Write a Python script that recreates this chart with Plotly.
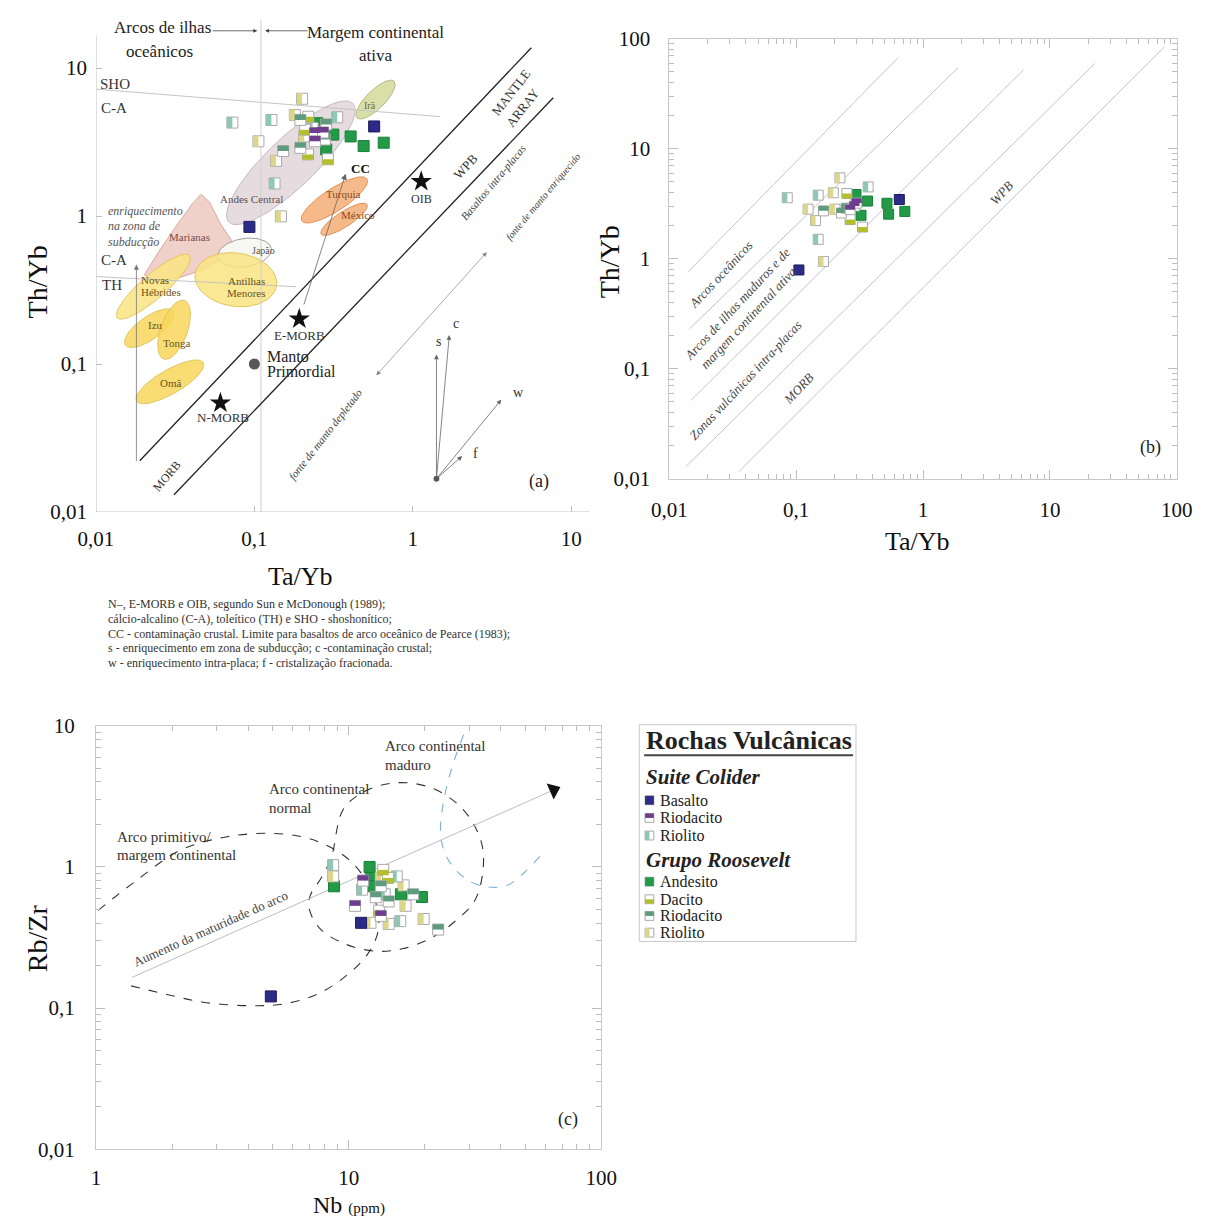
import numpy as np
import plotly.graph_objects as go

W, H = 1226, 1231          # target picture size
PAD = 8                    # default body margin of the html page
FW, FH = W - 2 * PAD, H - 2 * PAD
FONT = "Liberation Serif"

# ------------------------------------------------------------------ data
# Panel (a): Ta/Yb vs Th/Yb
a_bas_ta = [0.093, 0.57];                      a_bas_th = [0.845, 4.03]
a_crd_ta = [0.241, 0.271, 0.241];              a_crd_th = [3.64, 3.67, 3.2]
a_crl_ta = [0.0726, 0.128, 0.134, 0.333, 0.233]; a_crl_th = [4.28, 4.46, 1.66, 4.65, 3.93]
a_and_ta = [0.25, 0.315, 0.284, 0.405, 0.489, 0.655]; a_and_th = [4.24, 3.55, 2.82, 3.45, 2.97, 3.13]
a_dac_ta = [0.219, 0.218, 0.291, 0.209];       a_dac_th = [4.69, 2.61, 2.42, 3.83]
a_rrd_ta = [0.152, 0.195, 0.195, 0.284, 0.278]; a_rrd_th = [2.75, 2.89, 4.46, 4.16, 3.29]
a_rrl_ta = [0.2, 0.106, 0.137, 0.147, 0.18, 0.206]; a_rrl_th = [6.2, 3.2, 2.36, 0.995, 4.81, 3.45]

# Panel (b): Ta/Yb vs Th/Yb
b_bas_ta = [0.105, 0.65];                      b_bas_th = [0.79, 3.45]
b_crd_ta = [0.288, 0.266, 0.30];               b_crd_th = [3.01, 2.79, 3.2]
b_crl_ta = [0.085, 0.149, 0.149, 0.369];       b_crl_th = [3.58, 3.78, 1.5, 4.49]
b_and_ta = [0.296, 0.365, 0.324, 0.519, 0.535, 0.718]; b_and_th = [3.83, 3.34, 2.48, 3.19, 2.54, 2.69]
b_dac_ta = [0.266, 0.333, 0.251];              b_dac_th = [2.27, 1.94, 3.91]
b_rrd_ta = [0.164, 0.227, 0.248];              b_rrd_th = [2.72, 2.6, 2.88]
b_rrl_ta = [0.124, 0.142, 0.164, 0.221, 0.196, 0.202]; b_rrl_th = [2.82, 2.22, 0.944, 5.43, 3.97, 2.82]

# Panel (c): Nb vs Rb/Zr
c_bas_nb = [4.92, 11.2];                       c_bas_rz = [0.121, 0.402]
c_crd_nb = [11.4, 10.6, 13.4];                 c_crd_rz = [0.8, 0.53, 0.45]
c_crl_nb = [8.68, 16.0, 11.3, 15.5, 13.9];     c_crl_rz = [1.03, 0.413, 0.69, 0.857, 0.64]
c_and_nb = [8.75, 12.1, 12.3, 12.5, 16.1, 19.5]; c_and_rz = [0.729, 1.0, 0.836, 0.73, 0.64, 0.612]
c_dac_nb = [13.7, 13.2, 14.3];                 c_dac_rz = [0.953, 0.49, 0.836]
c_rrd_nb = [22.6, 13.4, 12.8, 14.4, 18.0];     c_rrd_rz = [0.36, 0.73, 0.61, 0.57, 0.64]
c_rrl_nb = [8.68, 12.2, 14.4, 19.8, 13.4, 16.5, 16.8]; c_rrl_rz = [0.857, 0.402, 0.395, 0.428, 0.836, 0.74, 0.53]

# reference points (a)
star_ta = [1.13, 0.192, 0.061]
star_th = [1.71, 0.202, 0.0547]
pm_ta = [0.1]; pm_th = [0.1]
vec_origin = (1.41, 0.0168)
vec_ta = [1.41, 1.70, 3.62, 2.05]
vec_th = [0.116, 0.157, 0.0575, 0.0239]

# field boundaries (a): log-space ellipses (cx, cy, a, b, angle)
fields = {
    "Andes":    (-0.77, 0.36, 0.56, 0.16, 46),
    "Ira":      (-0.235, 0.787, 0.17, 0.06, 47),
    "Turquia":  (-0.495, 0.109, 0.25, 0.075, 35),
    "Mexico":   (-0.434, -0.022, 0.176, 0.05, 35),
    "Japao":    (-1.061, -0.247, 0.17, 0.095, 10),
    "Antilhas": (-1.117, -0.43, 0.26, 0.18, -10),
    "Novas":    (-1.638, -0.477, 0.31, 0.08, 43),
    "Izu":      (-1.664, -0.758, 0.189, 0.075, 38),
    "Tonga":    (-1.507, -0.768, 0.208, 0.085, 72),
    "Oma":      (-1.533, -1.12, 0.247, 0.08, 32),
}
marianas_lx = [-1.695, -1.601, -1.484, -1.390, -1.338, -1.284, -1.214, -1.143, -1.178, -1.319, -1.484, -1.624]
marianas_ly = [-0.396, -0.236, -0.053, 0.085, 0.146, 0.096, -0.053, -0.167, -0.270, -0.362, -0.419, -0.442]

# (b) discriminant lines
b_lines_x = [(0.0141, 0.638), (0.0144, 1.88), (0.0148, 6.21), (0.0135, 22.5), (0.0353, 79.6)]
b_lines_y = [(0.764, 67.5), (0.23, 54.2), (0.0515, 52.2), (0.0129, 59.2), (0.0116, 83.9)]

# (c) field curves
normal_nb = [9.49, 11.5, 15.5, 21.5, 28.5, 33.3, 34.1, 31.6, 26.6, 21.5, 16.3, 12.8, 9.66, 7.7, 6.98, 7.05, 7.83, 8.55, 9.49]
normal_rz = [2.53, 3.41, 3.95, 3.6, 2.53, 1.55, 1.0, 0.58, 0.418, 0.318, 0.263, 0.253, 0.285, 0.365, 0.506, 0.629, 0.849, 1.18, 2.53]
prim_nb = [1.02, 1.42, 2.15, 3.27, 4.81, 6.58, 8.4, 10.4, 12.1, 13.1, 13.0, 11.9, 10.0, 7.56, 5.53, 4.04, 2.66, 1.87, 1.37]
prim_rz = [0.492, 0.782, 1.31, 1.63, 1.73, 1.63, 1.39, 1.06, 0.72, 0.466, 0.336, 0.242, 0.175, 0.126, 0.107, 0.104, 0.11, 0.126, 0.144]
mad_nb = [28.5, 25.7, 23.8, 23.1, 24.1, 26.6, 30.5, 35.7, 42.5, 49.8, 57.6]
mad_rz = [8.63, 5.14, 2.98, 1.73, 1.24, 0.947, 0.782, 0.721, 0.741, 0.921, 1.21]
arc_arrow_nb = [1.39, 64.7]
arc_arrow_rz = [0.165, 3.51]

dec_a = [0.01, 0.1, 1, 10]
dec_a_txt = ["0,01", "0,1", "1", "10"]
dec_b = [0.01, 0.1, 1, 10, 100]
dec_b_txt = ["0,01", "0,1", "1", "10", "100"]
dec_cx = [1, 10, 100]; dec_cx_txt = ["1", "10", "100"]
dec_cy = [0.01, 0.1, 1, 10]; dec_cy_txt = ["0,01", "0,1", "1", "10"]

COL = dict(bas="#2c2b85", crd="#6d3d8e", crl="#8ec8b4", andc="#239a47",
           dac="#b3be30", rrd="#5f9b7d", rrl="#dcd68a")

# panel geometry: pixel domains (in picture pixels) and log ranges
GEO = {
    "1": dict(xpix=(80, 600), xr=(-2, -2 + 520 / 163), ypix=(PAD, 510), yr=(-2, -2 + (510 - PAD) / 151)),
    "2": dict(xpix=(670, 1192), xr=(-2, 2), ypix=(27, 476), yr=(-2, 2)),
    "3": dict(xpix=(80, 600), xr=(0, 2), ypix=(728, 1160), yr=(-2, 1)),
}
def ppd(ax):
    g = GEO[ax]
    return ((g["xpix"][1] - g["xpix"][0]) / (g["xr"][1] - g["xr"][0]),
            (g["ypix"][1] - g["ypix"][0]) / (g["yr"][1] - g["yr"][0]))

fig = go.Figure()

def px(x): return (x - PAD) / FW
def py(y): return 1 - (y - PAD) / FH

def txt(s, x, y, size, color="#222", angle=0, xanchor="center"):
    fig.add_annotation(text=s, x=px(x), y=py(y), xref="paper", yref="paper",
                       showarrow=False, textangle=angle, xanchor=xanchor, yanchor="middle",
                       font=dict(family=FONT, size=size, color=color))

def line(xs, ys, ax, color="#bbb", width=1, dash="solid", shape="linear"):
    fig.add_trace(go.Scatter(x=xs, y=ys, mode="lines", xaxis="x" + ax, yaxis="y" + ax,
                             line=dict(color=color, width=width, dash=dash, shape=shape),
                             hoverinfo="skip", showlegend=False))

def ellipse(cx, cy, a, b, ang, n=80):
    t = np.linspace(0, 2 * np.pi, n)
    th = np.radians(ang)
    lx = cx + a * np.cos(t) * np.cos(th) - b * np.sin(t) * np.sin(th)
    ly = cy + a * np.cos(t) * np.sin(th) + b * np.sin(t) * np.cos(th)
    return 10 ** lx, 10 ** ly

def field(xs, ys, fill, border, ax="1"):
    fig.add_trace(go.Scatter(x=xs, y=ys, mode="lines", fill="toself", fillcolor=fill,
                             line=dict(color=border, width=1), xaxis="x" + ax, yaxis="y" + ax,
                             hoverinfo="skip", showlegend=False))

def solid(xs, ys, color, border, ax, size):
    fig.add_trace(go.Scatter(x=xs, y=ys, mode="markers", xaxis="x" + ax, yaxis="y" + ax,
                             marker=dict(symbol="square", size=size, color=color,
                                         line=dict(color=border, width=1)),
                             hoverinfo="skip", showlegend=False))

def half(xs, ys, color, side, ax, size):
    fig.add_trace(go.Scatter(x=xs, y=ys, mode="markers", xaxis="x" + ax, yaxis="y" + ax,
                             marker=dict(symbol="square", size=size, color="white",
                                         line=dict(color="#a9a9a9", width=1)),
                             hoverinfo="skip", showlegend=False))
    xs_a, ys_a = np.array(xs, float), np.array(ys, float)
    ppx, ppy = ppd(ax)
    h = size / 2.0
    zero = [0.0] * len(xs)
    kw = dict(type="data", symmetric=False, width=0, thickness=size, color=color, visible=True)
    tr = go.Scatter(x=xs, y=ys, mode="markers", xaxis="x" + ax, yaxis="y" + ax,
                    marker=dict(size=1, opacity=0), hoverinfo="skip", showlegend=False)
    if side == "left":
        tr.error_x = dict(kw, array=zero, arrayminus=list(xs_a * (1 - 10 ** (-h / ppx))))
    elif side == "top":
        tr.error_y = dict(kw, array=list(ys_a * (10 ** (h / ppy) - 1)), arrayminus=zero)
    else:
        tr.error_y = dict(kw, array=zero, arrayminus=list(ys_a * (1 - 10 ** (-h / ppy))))
    fig.add_trace(tr)

def all_points(d, ax, size):
    solid(d["and"][0], d["and"][1], COL["andc"], "#17803a", ax, size)
    half(d["rrl"][0], d["rrl"][1], COL["rrl"], "left", ax, size)
    half(d["crl"][0], d["crl"][1], COL["crl"], "left", ax, size)
    half(d["dac"][0], d["dac"][1], COL["dac"], "bottom", ax, size)
    half(d["rrd"][0], d["rrd"][1], COL["rrd"], "top", ax, size)
    half(d["crd"][0], d["crd"][1], COL["crd"], "top", ax, size)
    solid(d["bas"][0], d["bas"][1], COL["bas"], "#1c1b60", ax, size)

def arrow(x0, y0, x1, y1, xr, yr, color="#555", w=0.8, size=1.2, side="end"):
    fig.add_annotation(x=np.log10(x1), y=np.log10(y1), ax=np.log10(x0), ay=np.log10(y0),
                       xref=xr, yref=yr, axref=xr, ayref=yr, text="", showarrow=True,
                       arrowhead=2, arrowsize=size, arrowwidth=w, arrowcolor=color,
                       arrowside=side, startarrowhead=2, startarrowsize=size)

# ------------------------------------------------------------------ panel (a)
YTOP_A = 10 ** GEO["1"]["yr"][1]
yel_fill, yel_line = "rgba(250,228,130,0.85)", "#e3c55a"
yel2_fill = "rgba(248,214,92,0.85)"
fx, fy = ellipse(*fields["Andes"]);   field(fx, fy, "rgba(226,214,218,0.85)", "#c9b8be")
fx, fy = ellipse(*fields["Ira"]);     field(fx, fy, "rgba(214,218,160,0.9)", "#b6ba7c")
field(list(10 ** np.array(marianas_lx)) + [10 ** marianas_lx[0]],
      list(10 ** np.array(marianas_ly)) + [10 ** marianas_ly[0]], "rgba(238,204,196,0.9)", "#d9a9a0")
fx, fy = ellipse(*fields["Japao"]);   field(fx, fy, "rgba(248,248,242,1)", "#9c9c9c")
fx, fy = ellipse(*fields["Antilhas"]); field(fx, fy, yel_fill, yel_line)
fx, fy = ellipse(*fields["Novas"]);   field(fx, fy, yel_fill, yel_line)
fx, fy = ellipse(*fields["Izu"]);     field(fx, fy, yel2_fill, yel_line)
fx, fy = ellipse(*fields["Tonga"]);   field(fx, fy, yel2_fill, yel_line)
fx, fy = ellipse(*fields["Oma"]);     field(fx, fy, yel2_fill, yel_line)
fx, fy = ellipse(*fields["Turquia"]); field(fx, fy, "rgba(245,178,125,0.9)", "#e39255")
fx, fy = ellipse(*fields["Mexico"]);  field(fx, fy, "rgba(245,178,125,0.9)", "#e39255")

line([0.01, 1.48], [7.2, 4.7], "1", "#c4c4c4")
line([0.01, 0.183], [0.39, 0.333], "1", "#c4c4c4")
line([0.11, 0.11], [0.01, YTOP_A], "1", "#cfcfcf")
line([0.0189, 5.6], [0.0222, 13.7], "1", "#222", 1.3)
line([0.0311, 7.7], [0.0131, 6.3], "1", "#222", 1.3)
line([0.01, 13.0], [0.01, 0.01], "1", "#c8c8c8", 1.2)
line([0.01, 0.01], [0.01, 16.5], "1", "#c8c8c8", 1.2)

arrow(0.018, 0.0216, 0.018, 0.47, "x", "y", "#777", 0.8, 1.3)
arrow(0.577, 0.082, 2.93, 0.57, "x", "y", "#888", 0.7, 1.3, "end+start")
arrow(0.204, 0.247, 0.377, 1.93, "x", "y", "#666", 0.8, 1.5)
for vx, vy in zip(vec_ta, vec_th):
    arrow(vec_origin[0], vec_origin[1], vx, vy, "x", "y", "#666", 0.8, 1.2)

fig.add_trace(go.Scatter(x=star_ta, y=star_th, mode="markers", xaxis="x", yaxis="y",
                         marker=dict(symbol="star", size=16, color="#111"), showlegend=False, hoverinfo="skip"))
fig.add_trace(go.Scatter(x=pm_ta + [vec_origin[0]], y=pm_th + [vec_origin[1]], mode="markers",
                         xaxis="x", yaxis="y", marker=dict(size=[12, 7], color="#111"),
                         showlegend=False, hoverinfo="skip"))

all_points(dict(bas=(a_bas_ta, a_bas_th), crd=(a_crd_ta, a_crd_th), crl=(a_crl_ta, a_crl_th),
                **{"and": (a_and_ta, a_and_th)}, dac=(a_dac_ta, a_dac_th), rrd=(a_rrd_ta, a_rrd_th),
                rrl=(a_rrl_ta, a_rrl_th)), "1", 11)

# texts (a)
txt("Arcos de ilhas", 148, 16, 17)
txt("oceânicos", 145, 40, 17)
txt("Margem continental", 368, 21, 17)
txt("ativa", 368, 44, 17)
fig.add_annotation(x=px(246), y=py(19), xref="paper", yref="paper", ax=-46, ay=0, text="",
                   showarrow=True, arrowhead=2, arrowsize=1, arrowwidth=0.8, arrowcolor="#444")
fig.add_annotation(x=px(254), y=py(19), xref="paper", yref="paper", ax=44, ay=0, text="",
                   showarrow=True, arrowhead=2, arrowsize=1, arrowwidth=0.8, arrowcolor="#444")
txt("SHO", 100, 73, 15, "#333")
txt("C-A", 99, 98, 15, "#333")
txt("C-A", 99, 253, 15, "#333")
txt("TH", 97, 278, 15, "#333")
txt("Irã", 362, 95, 10, "#6d6d3a")
txt("Andes Central", 240, 191, 11, "#5a5055")
txt("<b>CC</b>", 340, 160, 13, "#111", xanchor="left")
txt("Turquia", 335, 185, 11, "#8a4a20")
txt("México", 350, 207, 11, "#8a4a20")
txt("OIB", 415, 191, 12, "#333")
txt("WPB", 460, 157, 13, "#333", -47)
txt("<i>Basaltos intra-placas</i>", 488, 174, 11, "#444", -50)
txt("<i>fonte de manto enriquecido</i>", 540, 188, 10, "#444", -50)
txt("MANTLE", 507, 82, 13, "#333", -52)
txt("ARRAY", 519, 97, 13, "#333", -52)
txt("<i>enriquecimento</i>", 90, 203, 12, "#555", xanchor="left")
txt("<i>na zona de</i>", 90, 218, 12, "#555", xanchor="left")
txt("<i>subducção</i>", 90, 234, 12, "#555", xanchor="left")
txt("Marianas", 176, 229, 11, "#7a4a44")
txt("Japão", 252, 243, 10, "#555")
txt("Novas", 141, 273, 11, "#6a5518")
txt("Hébrides", 147, 285, 11, "#6a5518")
txt("Antilhas", 235, 274, 11, "#6a5518")
txt("Menores", 235, 286, 11, "#6a5518")
txt("Izu", 141, 319, 11, "#6a5518")
txt("Tonga", 163, 337, 11, "#6a5518")
txt("Omã", 157, 378, 11, "#6a5518")
txt("E-MORB", 289, 330, 13, "#333")
txt("Manto", 254, 351, 16, "#222", xanchor="left")
txt("Primordial", 254, 367, 16, "#222", xanchor="left")
txt("N-MORB", 211, 414, 13, "#333")
txt("MORB", 153, 473, 12, "#333", -50)
txt("<i>fonte de manto depletado</i>", 316, 430, 11, "#444", -52)
txt("s", 432, 336, 14, "#333")
txt("c", 450, 318, 14, "#333")
txt("w", 515, 388, 14, "#333")
txt("f", 470, 450, 14, "#333")
txt("(a)", 536, 479, 18, "#222")
txt("Th/Yb", 20, 275, 28, "#111", -90)
txt("Ta/Yb", 290, 576, 26, "#111")

# ------------------------------------------------------------------ panel (b)
for (x0, x1), (y0, y1) in zip(b_lines_x, b_lines_y):
    line([x0, x1], [y0, y1], "2", "#c4c4c4", 1)
all_points(dict(bas=(b_bas_ta, b_bas_th), crd=(b_crd_ta, b_crd_th), crl=(b_crl_ta, b_crl_th),
                **{"and": (b_and_ta, b_and_th)}, dac=(b_dac_ta, b_dac_th), rrd=(b_rrd_ta, b_rrd_th),
                rrl=(b_rrl_ta, b_rrl_th)), "2", 10)
txt("<i>Arcos oceânicos</i>", 723, 268, 13, "#444", -47)
txt("<i>Arcos de ilhas maduros e de</i>", 740, 297, 13, "#444", -47)
txt("<i>margem continental ativa</i>", 752, 312, 13, "#444", -47)
txt("<i>Zonas vulcânicas intra-placas</i>", 748, 376, 13, "#444", -47)
txt("<i>MORB</i>", 803, 384, 13, "#444", -47)
txt("<i>WPB</i>", 1012, 184, 13, "#444", -47)
txt("(b)", 1165, 444, 18, "#222")
txt("Th/Yb", 608, 255, 28, "#111", -90)
txt("Ta/Yb", 925, 540, 26, "#111")

# ------------------------------------------------------------------ panel (c)
line(prim_nb, prim_rz, "3", "#333", 1.1, "dash", "spline")
line(normal_nb, normal_rz, "3", "#333", 1.1, "dash", "spline")
line(mad_nb, mad_rz, "3", "#7fb2cf", 1.1, "dash", "spline")
line(arc_arrow_nb, arc_arrow_rz, "3", "#bdbdbd", 1)
ppx3, ppy3 = ppd("3")
ang = np.degrees(np.arctan2(np.log10(arc_arrow_rz[1] / arc_arrow_rz[0]) * ppy3,
                            np.log10(arc_arrow_nb[1] / arc_arrow_nb[0]) * ppx3))
fig.add_trace(go.Scatter(x=arc_arrow_nb[1:], y=arc_arrow_rz[1:], mode="markers", xaxis="x3", yaxis="y3",
                         marker=dict(symbol="triangle-up", size=15, color="#111", angle=90 - ang),
                         showlegend=False, hoverinfo="skip"))
all_points(dict(bas=(c_bas_nb, c_bas_rz), crd=(c_crd_nb, c_crd_rz), crl=(c_crl_nb, c_crl_rz),
                **{"and": (c_and_nb, c_and_rz)}, dac=(c_dac_nb, c_dac_rz), rrd=(c_rrd_nb, c_rrd_rz),
                rrl=(c_rrl_nb, c_rrl_rz)), "3", 11)
txt("Arco primitivo/", 100, 841, 15, "#333", xanchor="left")
txt("margem continental", 100, 860, 15, "#333", xanchor="left")
txt("Arco continental", 256, 793, 15, "#333", xanchor="left")
txt("normal", 256, 812, 15, "#333", xanchor="left")
txt("Arco continental", 375, 749, 15, "#333", xanchor="left")
txt("maduro", 375, 768, 15, "#333", xanchor="left")
txt("Aumento da maturidade do arco", 198, 935, 13, "#444", -24)
txt("(c)", 566, 1130, 18, "#222")
txt("Rb/Zr", 20, 945, 28, "#111", -90)
txt("Nb <span style='font-size:15px'>(ppm)</span>", 340, 1217, 24, "#111")

# ------------------------------------------------------------------ caption
caption = ["N–, E-MORB e OIB, segundo Sun e McDonough (1989);",
           "cálcio-alcalino (C-A), toleítico (TH) e SHO - shoshonítico;",
           "CC - contaminação crustal. Limite para basaltos de arco oceânico de Pearce (1983);",
           "s - enriquecimento em zona de subducção; c -contaminação crustal;",
           "w - enriquecimento intra-placa; f - cristalização fracionada."]
for i, s in enumerate(caption):
    txt(s, 90, 604 + 15 * i, 12, "#333", xanchor="left")

# ------------------------------------------------------------------ legend
fig.add_shape(type="rect", xref="paper", yref="paper", x0=px(639), x1=px(862), y0=py(948), y1=py(727),
              line=dict(color="#c8c8c8", width=1), fillcolor="rgba(0,0,0,0)")
txt("<b>Rochas Vulcânicas</b>", 644, 743, 26, "#222", xanchor="left")
fig.add_shape(type="line", xref="paper", yref="paper", x0=px(644), x1=px(859), y0=py(758), y1=py(758),
              line=dict(color="#444", width=2))
txt("<b><i>Suite Colider</i></b>", 644, 780, 21, "#222", xanchor="left")
txt("<b><i>Grupo Roosevelt</i></b>", 644, 865, 21, "#222", xanchor="left")
leg_items = [("Basalto", 804, "full", COL["bas"]), ("Riodacito", 822, "top", COL["crd"]),
             ("Riolito", 840, "left", COL["crl"]), ("Andesito", 887, "full", COL["andc"]),
             ("Dacito", 905, "bottom", COL["dac"]), ("Riodacito", 922, "top", COL["rrd"]),
             ("Riolito", 939, "left", COL["rrl"])]
for name, yy, side, col in leg_items:
    x0, x1, y0, y1 = 645, 654, yy - 4.5, yy + 4.5
    fig.add_shape(type="rect", xref="paper", yref="paper", x0=px(x0), x1=px(x1), y0=py(y1), y1=py(y0),
                  fillcolor="white", line=dict(color="#a9a9a9", width=1))
    if side == "full":
        fx0, fx1, fy0, fy1 = x0, x1, y0, y1
    elif side == "top":
        fx0, fx1, fy0, fy1 = x0, x1, y0, yy
    elif side == "bottom":
        fx0, fx1, fy0, fy1 = x0, x1, yy, y1
    else:
        fx0, fx1, fy0, fy1 = x0, (x0 + x1) / 2, y0, y1
    fig.add_shape(type="rect", xref="paper", yref="paper", x0=px(fx0), x1=px(fx1), y0=py(fy1), y1=py(fy0),
                  fillcolor=col, line=dict(width=0))
    txt(name, 658, yy, 16, "#222", xanchor="left")

# ------------------------------------------------------------------ axes
tickfont = dict(family=FONT, size=21, color="#111")
def minor_vals(e0, e1):
    return [k * 10 ** e for e in range(e0, e1) for k in range(2, 10)]

def dom(ax):
    g = GEO[ax]
    return [px(g["xpix"][0]), px(g["xpix"][1])], [py(g["ypix"][1]), py(g["ypix"][0])]

common = dict(type="log", showgrid=False, zeroline=False, ticks="inside", tickcolor="#bdbdbd",
              tickfont=tickfont)
d1x, d1y = dom("1"); d2x, d2y = dom("2"); d3x, d3y = dom("3")
fig.update_layout(
    width=FW, height=FH, autosize=False, margin=dict(l=0, r=0, t=0, b=0),
    paper_bgcolor="white", plot_bgcolor="rgba(0,0,0,0)", showlegend=False,
    font=dict(family=FONT),
    xaxis=dict(**common, domain=d1x, range=list(GEO["1"]["xr"]), anchor="y",
               tickvals=dec_a, ticktext=dec_a_txt, ticklen=6, showline=False, ticklabelstandoff=12),
    yaxis=dict(**common, domain=d1y, range=list(GEO["1"]["yr"]), anchor="x",
               tickvals=dec_a, ticktext=dec_a_txt, ticklen=6, showline=False, ticklabelstandoff=8),
    xaxis2=dict(**common, domain=d2x, range=list(GEO["2"]["xr"]), anchor="y2",
                tickvals=dec_b, ticktext=dec_b_txt, ticklen=9, showline=True, mirror="ticks",
                linecolor="#c8c8c8", ticklabelstandoff=12,
                minor=dict(ticks="inside", ticklen=5, tickcolor="#bdbdbd", tickvals=minor_vals(-2, 2))),
    yaxis2=dict(**common, domain=d2y, range=list(GEO["2"]["yr"]), anchor="x2",
                tickvals=dec_b, ticktext=dec_b_txt, ticklen=9, showline=True, mirror="ticks",
                linecolor="#c8c8c8", ticklabelstandoff=14,
                minor=dict(ticks="inside", ticklen=5, tickcolor="#bdbdbd", tickvals=minor_vals(-2, 2))),
    xaxis3=dict(**common, domain=d3x, range=list(GEO["3"]["xr"]), anchor="y3",
                tickvals=dec_cx, ticktext=dec_cx_txt, ticklen=9, showline=True, mirror="ticks",
                linecolor="#c8c8c8", ticklabelstandoff=10,
                minor=dict(ticks="inside", ticklen=5, tickcolor="#bdbdbd", tickvals=minor_vals(0, 2))),
    yaxis3=dict(**common, domain=d3y, range=list(GEO["3"]["yr"]), anchor="x3",
                tickvals=dec_cy, ticktext=dec_cy_txt, ticklen=9, showline=True, mirror="ticks",
                linecolor="#c8c8c8", ticklabelstandoff=16,
                minor=dict(ticks="inside", ticklen=5, tickcolor="#bdbdbd", tickvals=minor_vals(-2, 1))),
)

fig.write_html("out.html", config={"displayModeBar": False, "responsive": False})
